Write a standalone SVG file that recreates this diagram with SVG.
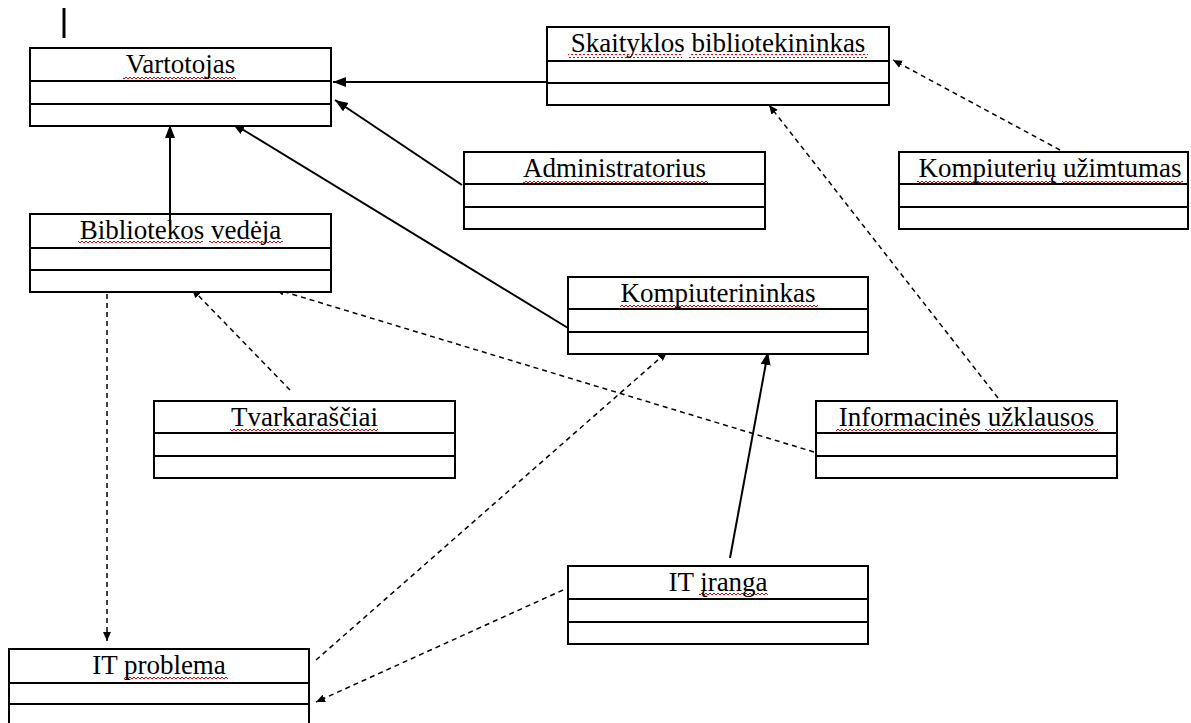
<svg xmlns="http://www.w3.org/2000/svg" width="1191" height="723" viewBox="0 0 1191 723">
  <style>
    .box { fill: #fff; stroke: #000; stroke-width: 2; }
    .sep { stroke: #000; stroke-width: 2; }
    .name { font-family: "Liberation Serif", "Times New Roman", serif; font-size: 27px; fill: #000; text-anchor: middle; }
    .spell { fill: url(#squiggle); }
    .assoc { fill: none; stroke: #000; stroke-width: 2; marker-end: url(#solidHead); }
    .dep { fill: none; stroke: #000; stroke-width: 1.5; stroke-dasharray: 5 4; marker-end: url(#smallHead); }
  </style>
  <defs>
    <pattern id="squiggle" patternUnits="userSpaceOnUse" width="4" height="4">
      <polyline points="0,3 2,1 4,3" fill="none" stroke="#e00000" stroke-width="1"/>
    </pattern>
    <marker id="solidHead" markerUnits="userSpaceOnUse" markerWidth="14" markerHeight="12" refX="13" refY="5" orient="auto">
      <path d="M0,0 L13,5 L0,10 z" fill="#000"/>
    </marker>
    <marker id="smallHead" markerUnits="userSpaceOnUse" markerWidth="10" markerHeight="10" refX="9" refY="4" orient="auto">
      <path d="M0,0 L9,4 L0,8 z" fill="#000"/>
    </marker>
  </defs>

  <rect width="1191" height="723" fill="#fff"/>

  <!-- text cursor mark -->
  <line x1="64" y1="8" x2="64" y2="38" stroke="#000" stroke-width="3"/>

  <!-- connectors -->
  <g id="connectors">
    <line class="assoc" x1="547" y1="82" x2="333" y2="82"/>
    <line class="assoc" x1="462" y1="185" x2="335" y2="100"/>
    <line class="assoc" x1="170" y1="226" x2="170" y2="125"/>
    <line class="assoc" x1="568" y1="328" x2="232" y2="123"/>
    <line class="assoc" x1="730" y1="558" x2="768" y2="352"/>
    <line class="dep" x1="1060" y1="150" x2="893" y2="60"/>
    <line class="dep" x1="998" y1="398" x2="769" y2="105"/>
    <line class="dep" x1="814" y1="452" x2="275" y2="289"/>
    <line class="dep" x1="290" y1="390" x2="192" y2="289"/>
    <line class="dep" x1="107" y1="294" x2="107" y2="641"/>
    <line class="dep" x1="316" y1="660" x2="667" y2="352"/>
    <line class="dep" x1="563" y1="590" x2="316" y2="702"/>
  </g>

  <g id="vartotojas">
    <rect class="box" x="30" y="48" width="301" height="78"/>
    <line class="sep" x1="30" y1="81" x2="331" y2="81"/>
    <line class="sep" x1="30" y1="104" x2="331" y2="104"/>
    <rect class="spell" x="123" y="75" width="113" height="4"/>
    <text class="name" x="180.5" y="73">Vartotojas</text>
  </g>

  <g id="skaityklos-bibliotekininkas">
    <rect class="box" x="547" y="27" width="342" height="78"/>
    <line class="sep" x1="547" y1="61" x2="889" y2="61"/>
    <line class="sep" x1="547" y1="83" x2="889" y2="83"/>
    <rect class="spell" x="568" y="54" width="114" height="4"/>
    <rect class="spell" x="689" y="54" width="179" height="4"/>
    <text class="name" x="718" y="52">Skaityklos bibliotekininkas</text>
  </g>

  <g id="administratorius">
    <rect class="box" x="464" y="152" width="301" height="77"/>
    <line class="sep" x1="464" y1="184" x2="765" y2="184"/>
    <line class="sep" x1="464" y1="207" x2="765" y2="207"/>
    <rect class="spell" x="523" y="179" width="185" height="4"/>
    <text class="name" x="614.5" y="177">Administratorius</text>
  </g>

  <g id="kompiuteriu-uzimtumas">
    <rect class="box" x="899" y="152" width="289" height="77"/>
    <line class="sep" x1="899" y1="184" x2="1188" y2="184"/>
    <line class="sep" x1="899" y1="207" x2="1188" y2="207"/>
    <rect class="spell" x="917" y="179" width="138" height="4"/>
    <rect class="spell" x="1062" y="179" width="121" height="4"/>
    <text class="name" x="1050" y="177">Kompiuterių užimtumas</text>
  </g>

  <g id="bibliotekos-vedeja">
    <rect class="box" x="30" y="214" width="301" height="78"/>
    <line class="sep" x1="30" y1="248" x2="331" y2="248"/>
    <line class="sep" x1="30" y1="270" x2="331" y2="270"/>
    <line x1="170" y1="214" x2="170" y2="226" stroke="#000" stroke-width="2"/>
    <rect class="spell" x="78" y="241" width="125" height="4"/>
    <rect class="spell" x="209" y="241" width="74" height="4"/>
    <text class="name" x="180.5" y="239">Bibliotekos vedėja</text>
  </g>

  <g id="kompiuterininkas">
    <rect class="box" x="568" y="277" width="300" height="77"/>
    <line class="sep" x1="568" y1="309" x2="868" y2="309"/>
    <line class="sep" x1="568" y1="332" x2="868" y2="332"/>
    <rect class="spell" x="620" y="304" width="198" height="4"/>
    <text class="name" x="718" y="302">Kompiuterininkas</text>
  </g>

  <g id="tvarkarasciai">
    <rect class="box" x="154" y="401" width="301" height="77"/>
    <line class="sep" x1="154" y1="433" x2="455" y2="433"/>
    <line class="sep" x1="154" y1="456" x2="455" y2="456"/>
    <rect class="spell" x="230" y="428" width="148" height="4"/>
    <text class="name" x="304.5" y="426">Tvarkaraščiai</text>
  </g>

  <g id="informacines-uzklausos">
    <rect class="box" x="816" y="401" width="301" height="77"/>
    <line class="sep" x1="816" y1="433" x2="1117" y2="433"/>
    <line class="sep" x1="816" y1="456" x2="1117" y2="456"/>
    <rect class="spell" x="836" y="428" width="142" height="4"/>
    <rect class="spell" x="985" y="428" width="113" height="4"/>
    <text class="name" x="966.5" y="426">Informacinės užklausos</text>
  </g>

  <g id="it-iranga">
    <rect class="box" x="568" y="566" width="300" height="78"/>
    <line class="sep" x1="568" y1="599" x2="868" y2="599"/>
    <line class="sep" x1="568" y1="622" x2="868" y2="622"/>
    <rect class="spell" x="699" y="593" width="69" height="4"/>
    <text class="name" x="718" y="591">IT įranga</text>
  </g>

  <g id="it-problema">
    <rect class="box" x="9" y="649" width="300" height="90"/>
    <line class="sep" x1="9" y1="683" x2="309" y2="683"/>
    <line class="sep" x1="9" y1="704" x2="309" y2="704"/>
    <rect class="spell" x="124" y="676" width="104" height="4"/>
    <text class="name" x="159" y="674">IT problema</text>
  </g>
</svg>
